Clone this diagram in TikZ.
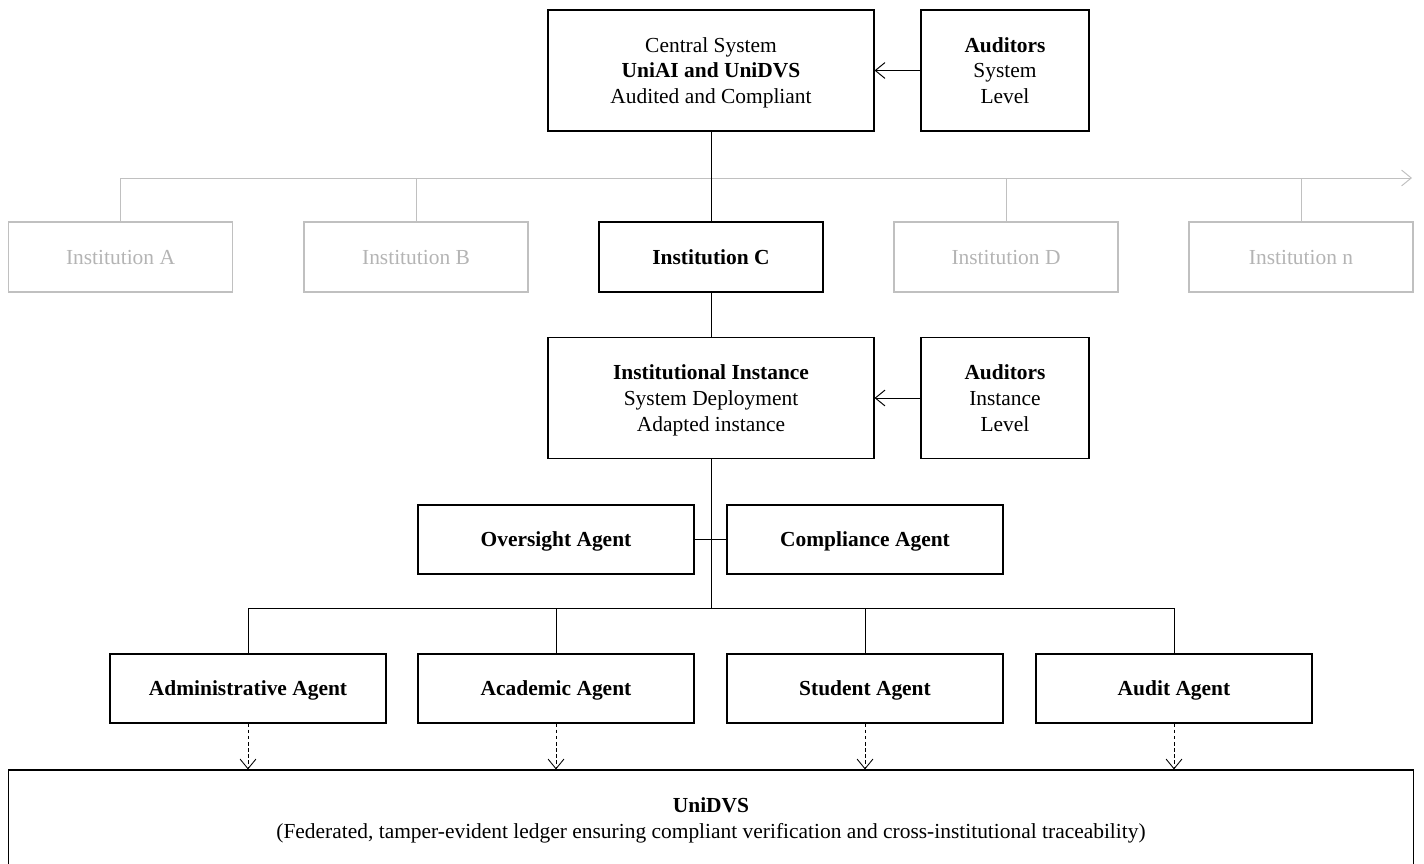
\documentclass[tikz,border=0pt]{standalone}
\usepackage{fontspec}
\setmainfont{Liberation Serif}
\usepackage{xcolor}
\usepackage{tikz}
\usetikzlibrary{arrows.meta,positioning,calc}

\definecolor{fadegray}{RGB}{192,192,192}
\definecolor{fadetext}{RGB}{180,180,180}

\begin{document}
\begin{tikzpicture}[x=0.02cm, y=-0.02cm,
    font=\fontsize{12.2}{14.7}\selectfont,
    every node/.style={align=center, inner sep=2pt, text depth=0pt},
    mainbox/.style={draw, line width=0.65pt, minimum width=6.52cm, minimum height=2.42cm},
    audbox/.style={draw, line width=0.65pt, minimum width=3.36cm, minimum height=2.42cm},
    instbox/.style={draw, line width=0.65pt, minimum width=4.48cm, minimum height=1.4cm},
    fadebox/.style={instbox, draw=fadegray, text=fadetext},
    agentbox/.style={draw, line width=0.65pt, minimum width=5.52cm, minimum height=1.38cm, font=\fontsize{12.2}{14.7}\selectfont\bfseries},
    link/.style={line width=0.55pt},
    fadelink/.style={line width=0.55pt, draw=fadegray},
    >={Straight Barb[length=5.5pt, width=9pt]},
    dasharrow/.style={->, line width=0.5pt, dash pattern=on 2pt off 1.5pt}]
    \useasboundingbox (0,0) rectangle (1424,863);

    % Central system and system auditors
    \node[mainbox] (central) at (711,70.5) {Central System\\\textbf{UniAI and UniDVS}\\Audited and Compliant};
    \node[audbox] (audsys) at (1005,70.5) {\textbf{Auditors}\\System\\Level};
    \draw[->, link] (audsys) -- (central);

    % Institutions
    \node[fadebox] (instA) at (120.5,257) {Institution A};
    \node[fadebox] (instB) at (416,257) {Institution B};
    \node[instbox, font=\fontsize{12.2}{14.7}\selectfont\bfseries] (instC) at (711,257) {Institution C};
    \node[fadebox] (instD) at (1006,257) {Institution D};
    \node[fadebox] (instN) at (1301,257) {Institution n};
    \coordinate (instbus) at (1412,178);
    \draw[fadelink, ->] (instA.north) |- (instbus);
    \draw[fadelink] (instB.north) -- (instB.north |- instbus);
    \draw[fadelink] (instD.north) -- (instD.north |- instbus);
    \draw[fadelink] (instN.north) -- (instN.north |- instbus);
    \draw[link] (central) -- (instC);

    % Institutional instance and instance auditors
    \node[mainbox] (instance) at (711,398) {\textbf{Institutional Instance}\\System Deployment\\Adapted instance};
    \node[audbox] (audinst) at (1005,398) {\textbf{Auditors}\\Instance\\Level};
    \draw[link] (instC) -- (instance);
    \draw[->, link] (audinst) -- (instance);

    % Supervising agents
    \node[agentbox] (oversight) at (556,539.5) {Oversight Agent};
    \node[agentbox] (compliance) at (865,539.5) {Compliance Agent};
    \draw[link] (oversight) -- (compliance);

    % Operational agents
    \coordinate (agbus) at (711,608);
    \node[agentbox] (admin) at (248,688.5) {Administrative Agent};
    \node[agentbox] (academic) at (556,688.5) {Academic Agent};
    \node[agentbox] (student) at (865,688.5) {Student Agent};
    \node[agentbox] (audit) at (1174,688.5) {Audit Agent};
    \draw[link] (instance) -- (agbus);
    \draw[link] (admin.north) |- (agbus) -| (audit.north);
    \draw[link] (academic.north) -- (academic.north |- agbus);
    \draw[link] (student.north) -- (student.north |- agbus);

    % Ledger
    \node[draw, line width=0.65pt, minimum width=28.12cm, minimum height=1.92cm] (ledger) at (711,818) {\textbf{UniDVS}\\(Federated, tamper-evident ledger ensuring compliant verification and cross-institutional traceability)};
    \foreach \ag in {admin, academic, student, audit}
        \draw[dasharrow] (\ag.south) -- (\ag.south |- ledger.north);
\end{tikzpicture}
\end{document}
